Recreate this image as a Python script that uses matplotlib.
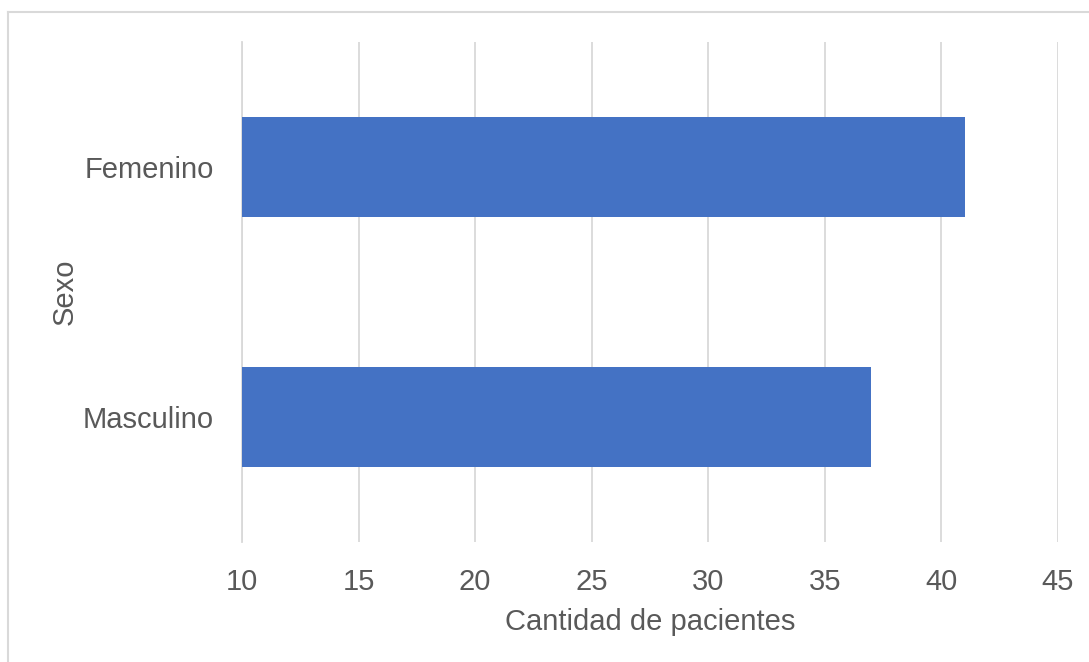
import matplotlib.pyplot as plt
from matplotlib.lines import Line2D

plt.rcParams['font.family'] = ['Liberation Sans', 'DejaVu Sans']

# Patient counts by sex
categories = ['Masculino', 'Femenino']
counts = [37, 41]
x_ticks = [10, 15, 20, 25, 30, 35, 40, 45]

text_color = '#595959'
grid_color = '#D9D9D9'
bar_color = '#4472C4'

W, H = 1089, 662
fig = plt.figure(figsize=(W / 100, H / 100), dpi=100)
ax = fig.add_axes([242 / W, 1 - 542 / H, (1058 - 242) / W, 500 / H])

ax.barh(range(len(categories)), [c - x_ticks[0] for c in counts], left=x_ticks[0],
        height=0.4, color=bar_color, zorder=3)

ax.set_xlim(x_ticks[0], x_ticks[-1])
ax.set_ylim(-0.5, len(categories) - 0.5)
ax.set_xticks(x_ticks)
ax.set_yticks(range(len(categories)))
ax.set_yticklabels(categories)

ax.grid(axis='x', color=grid_color, linewidth=1.3, zorder=0)
for side in ['top', 'right', 'bottom']:
    ax.spines[side].set_visible(False)
ax.spines['left'].set_color(grid_color)
ax.spines['left'].set_linewidth(1.3)
ax.tick_params(axis='both', length=0, labelsize=21, labelcolor=text_color)
ax.tick_params(axis='x', pad=19)
ax.tick_params(axis='y', pad=20)

ax.set_xlabel('Cantidad de pacientes', fontsize=21, color=text_color, labelpad=8)
ax.set_ylabel('Sexo', fontsize=21, color=text_color, labelpad=3)

# chart frame (top and left edges)
fig.add_artist(Line2D([8 / W, 8 / W], [0, 1 - 12 / H], transform=fig.transFigure,
                      color=grid_color, linewidth=1.5))
fig.add_artist(Line2D([8 / W, 1], [1 - 12 / H, 1 - 12 / H], transform=fig.transFigure,
                      color=grid_color, linewidth=1.5))

fig.savefig('out.png', dpi=100, facecolor='white')
